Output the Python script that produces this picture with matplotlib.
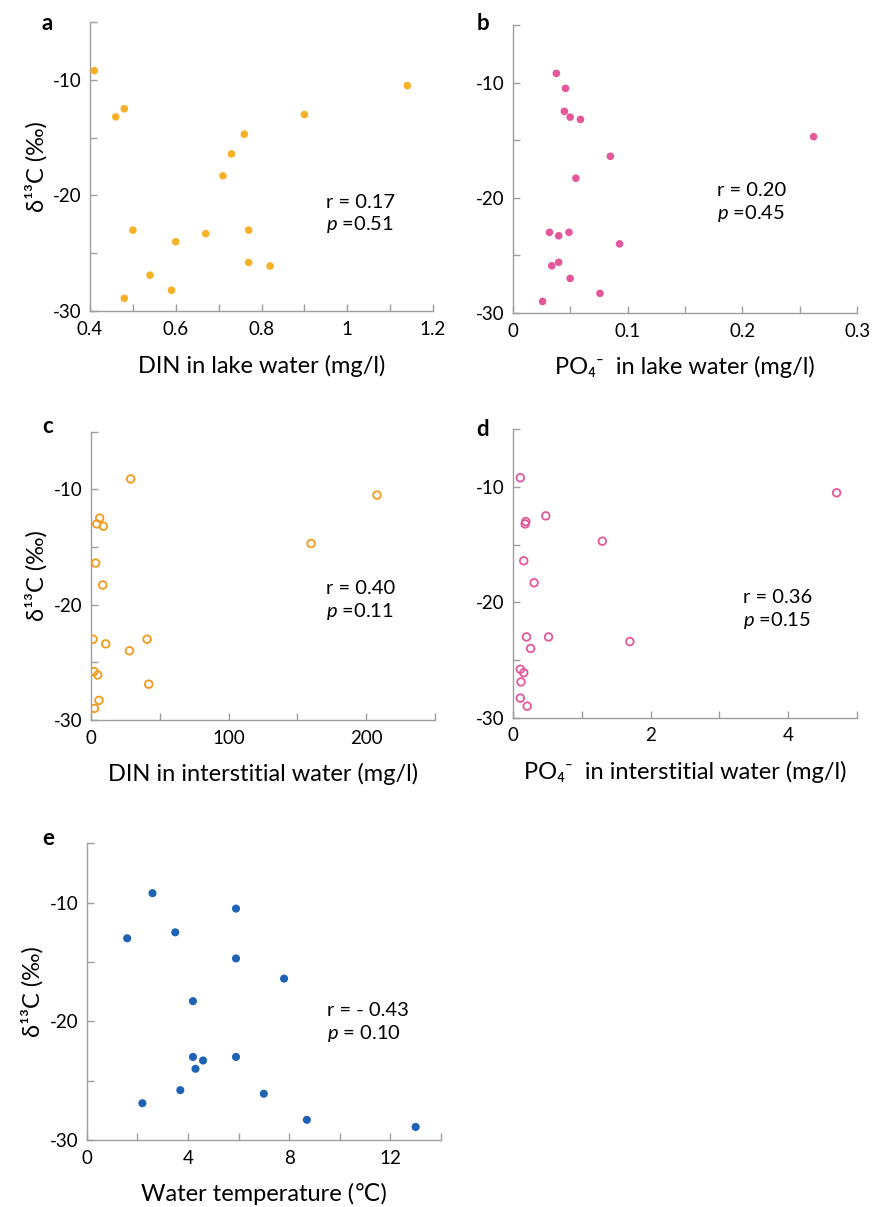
import numpy as np
import matplotlib
matplotlib.use("Agg")
import matplotlib.pyplot as plt
from matplotlib.ticker import MultipleLocator

plt.rcParams['font.family'] = ['Lato', 'DejaVu Sans', 'Noto Sans CJK JP']
plt.rcParams['mathtext.fontset'] = 'custom'
plt.rcParams['mathtext.rm'] = 'Lato'
plt.rcParams['mathtext.it'] = 'Lato:italic'
plt.rcParams['axes.unicode_minus'] = False

# delta 13C of the samples against each environmental variable
din_lake = [0.41, 1.14, 0.46, 0.48, 0.90, 0.76, 0.73, 0.71, 0.50, 0.67, 0.77, 0.60, 0.77, 0.82, 0.54, 0.59, 0.48]
d13c_a = [-9.2, -10.5, -13.2, -12.5, -13.0, -14.7, -16.4, -18.3, -23.0, -23.3, -23.0, -24.0, -25.8, -26.1, -26.9, -28.2, -28.9]

po4_lake = [0.038, 0.046, 0.045, 0.050, 0.059, 0.262, 0.085, 0.055, 0.032, 0.049, 0.040, 0.093, 0.040, 0.034, 0.050, 0.076, 0.026]
d13c_b = [-9.2, -10.5, -12.5, -13.0, -13.2, -14.7, -16.4, -18.3, -23.0, -23.0, -23.3, -24.0, -25.6, -25.9, -27.0, -28.3, -29.0]

din_inter = [29.0, 207.7, 6.5, 4.4, 9.2, 159.9, 3.6, 8.7, 1.7, 10.9, 40.9, 28.1, 2.4, 5.1, 42.1, 6.0, 2.7]
d13c_c = [-9.1, -10.5, -12.5, -13.0, -13.2, -14.7, -16.4, -18.3, -23.0, -23.4, -23.0, -24.0, -25.8, -26.1, -26.9, -28.3, -29.0]

po4_inter = [0.11, 4.70, 0.48, 0.19, 0.18, 1.30, 0.16, 0.31, 0.20, 0.52, 1.70, 0.26, 0.11, 0.16, 0.12, 0.11, 0.21]
d13c_d = [-9.2, -10.5, -12.5, -13.0, -13.2, -14.7, -16.4, -18.3, -23.0, -23.0, -23.4, -24.0, -25.8, -26.1, -26.9, -28.3, -29.0]

water_temp = [2.6, 5.9, 1.6, 3.5, 5.9, 7.8, 4.2, 4.2, 4.6, 5.9, 4.3, 3.7, 7.0, 2.2, 8.7, 13.0]
d13c_e = [-9.2, -10.5, -13.0, -12.5, -14.7, -16.4, -18.3, -23.0, -23.3, -23.0, -24.0, -25.8, -26.1, -26.9, -28.3, -28.9]

stats = {
    'a': ('r = 0.17', r'$\it{p}$ =0.51'),
    'b': ('r = 0.20', r'$\it{p}$ =0.45'),
    'c': ('r = 0.40', r'$\it{p}$ =0.11'),
    'd': ('r = 0.36', r'$\it{p}$ =0.15'),
    'e': ('r = - 0.43', r'$\it{p}$ = 0.10'),
}

YELLOW = '#F7B128'
PINK = '#E4579B'
ORANGE = '#F29A1E'
BLUE = '#1E63B3'
SPINE = '#9E9E9E'

fig = plt.figure(figsize=(8.73, 12.07), dpi=100)


def style_axes(ax, xlim, xmajor, xminor, xlabel, show_ylabel):
    ax.set_xlim(*xlim)
    ax.set_ylim(-30, -5)
    ax.xaxis.set_major_locator(MultipleLocator(xmajor))
    ax.xaxis.set_minor_locator(MultipleLocator(xminor))
    ax.yaxis.set_major_locator(MultipleLocator(10))
    ax.yaxis.set_minor_locator(MultipleLocator(5))
    ax.set_yticks([-30, -20, -10])
    for side in ('top', 'right'):
        ax.spines[side].set_visible(False)
    for side in ('left', 'bottom'):
        ax.spines[side].set_color(SPINE)
        ax.spines[side].set_linewidth(1.0)
    ax.tick_params(which='both', direction='in', length=5, width=1.0, color=SPINE,
                   labelsize=13.5, pad=7)
    ax.tick_params(axis='y', pad=6)
    ax.set_xlabel(xlabel, fontsize=17, labelpad=12)
    if show_ylabel:
        ax.set_ylabel('δ¹³C (‰)', fontsize=17, labelpad=4)


def add_stats(ax, key, x, y1, y2):
    r_txt, p_txt = stats[key]
    ax.text(x, y1, r_txt, transform=ax.transAxes, fontsize=14.5, va='center', ha='left')
    ax.text(x, y2, p_txt, transform=ax.transAxes, fontsize=14.5, va='center', ha='left')


# a: DIN in lake water
ax_a = fig.add_axes([0.1031, 0.7423, 0.3929, 0.2394])
ax_a.scatter(din_lake, d13c_a, s=30, color=YELLOW, edgecolors='none', zorder=3)
style_axes(ax_a, (0.4, 1.2), 0.2, 0.1, 'DIN in lake water (mg/l)', True)
ax_a.set_xticks([0.4, 0.6, 0.8, 1.0, 1.2])
ax_a.set_xticklabels(['0.4', '0.6', '0.8', '1', '1.2'])
add_stats(ax_a, 'a', 0.688, 0.377, 0.30)

# b: PO4 in lake water
ax_b = fig.add_axes([0.5873, 0.7407, 0.3947, 0.2386])
ax_b.scatter(po4_lake, d13c_b, s=30, color=PINK, edgecolors='none', zorder=3)
style_axes(ax_b, (0, 0.3), 0.1, 0.05, 'PO₄⁻  in lake water (mg/l)', False)
ax_b.set_xticks([0, 0.1, 0.2, 0.3])
ax_b.set_xticklabels(['0', '0.1', '0.2', '0.3'])
add_stats(ax_b, 'b', 0.592, 0.427, 0.347)

# c: DIN in interstitial water
ax_c = fig.add_axes([0.1039, 0.4035, 0.3947, 0.2389])
ax_c.scatter(din_inter, d13c_c, s=30, facecolors='none', edgecolors=ORANGE, linewidths=1.3, zorder=3)
style_axes(ax_c, (0, 250), 100, 50, 'DIN in interstitial water (mg/l)', True)
add_stats(ax_c, 'c', 0.683, 0.457, 0.376)

# d: PO4 in interstitial water
ax_d = fig.add_axes([0.5873, 0.4054, 0.3947, 0.2389])
ax_d.scatter(po4_inter, d13c_d, s=30, facecolors='none', edgecolors=PINK, linewidths=1.3, zorder=3)
style_axes(ax_d, (0, 5), 2, 1, 'PO₄⁻  in interstitial water (mg/l)', False)
add_stats(ax_d, 'd', 0.669, 0.416, 0.336)

# e: water temperature
ax_e = fig.add_axes([0.0993, 0.0555, 0.4058, 0.2458])
ax_e.scatter(water_temp, d13c_e, s=34, color=BLUE, edgecolors='none', zorder=3)
style_axes(ax_e, (0, 14), 4, 2, 'Water temperature (℃)', True)
add_stats(ax_e, 'e', 0.677, 0.438, 0.36)

# panel letters
for x, y, letter in [(42, 30, 'a'), (477, 30, 'b'), (42, 433, 'c'), (476, 436, 'd'), (42, 845, 'e')]:
    fig.text(x / 873, 1 - y / 1207, letter, fontsize=16, fontweight='bold', ha='left', va='baseline')

fig.savefig('out.png', dpi=100)
